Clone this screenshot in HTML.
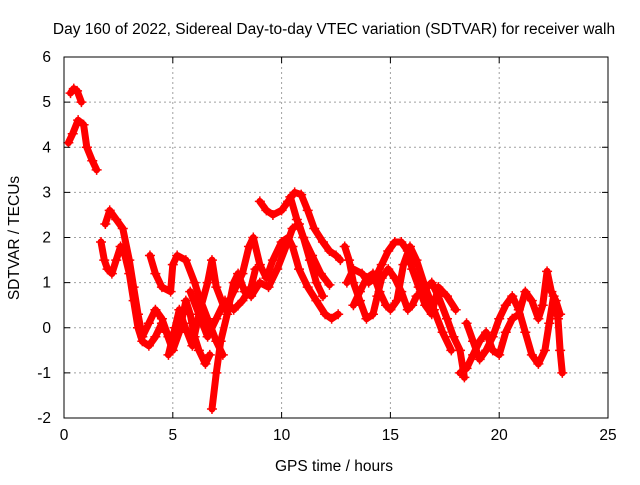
<!DOCTYPE html>
<html><head><meta charset="utf-8"><style>
body{margin:0;background:#fff}
svg{font-family:"Liberation Sans",Arial,sans-serif;font-size:15.5px}
</style></head><body>
<svg id="chart" width="640" height="480">
<g id="grid"></g>
<g id="series"></g>
<rect x="64" y="57" width="544" height="361" fill="none" stroke="#000"/>
<g id="ticks"></g>
<text x="334" y="34" text-anchor="middle">Day 160 of 2022, Sidereal Day-to-day VTEC variation (SDTVAR) for receiver walh</text>
<text x="334" y="471" text-anchor="middle">GPS time / hours</text>
<text x="0" y="0" transform="translate(19,238) rotate(-90)" text-anchor="middle">SDTVAR / TECUs</text>
</svg>
<script>
const xTicks=[0,5,10,15,20,25];
const yTicks=[-2,-1,0,1,2,3,4,5,6];
const track1=[[0.3,5.2],[0.45,5.3],[0.6,5.25],[0.8,5.0]];
const track2=[[0.2,4.1],[0.4,4.3],[0.65,4.6],[0.9,4.5],[1.05,4.0],[1.3,3.7],[1.5,3.5]];
const track3=[[1.7,1.9],[1.85,1.5],[2.0,1.3],[2.2,1.2],[2.4,1.5],[2.6,1.8],[2.8,1.6],[3.0,1.2],[3.2,0.6],[3.4,0.0],[3.6,-0.3],[3.9,-0.4],[4.2,-0.2],[4.5,0.1],[4.7,-0.1],[5.0,-0.5],[5.3,-0.1],[5.6,0.6],[5.8,0.3],[6.0,-0.2],[6.2,-0.5],[6.5,-0.8],[6.7,-0.6]];
const track4=[[1.9,2.3],[2.1,2.6],[2.4,2.4],[2.7,2.2],[3.0,1.5],[3.2,0.9],[3.4,0.3],[3.6,-0.2],[3.9,0.1],[4.2,0.4],[4.5,0.2],[4.8,-0.2]];
const track5=[[3.95,1.6],[4.2,1.2],[4.5,0.9],[4.9,0.8],[5.0,1.4],[5.2,1.6],[5.6,1.5],[6.0,1.0],[6.2,0.7],[6.6,0.2],[7.0,-0.3],[7.3,-0.6]];
const track6=[[4.8,-0.6],[5.1,0.0],[5.3,0.4],[5.5,0.1],[5.9,-0.4],[6.2,0.3],[6.6,1.0],[6.8,1.5],[7.0,0.9],[7.4,0.4],[7.8,0.8],[8.2,1.2],[8.5,1.8],[8.7,2.0],[9.0,1.4],[9.3,1.1],[9.6,1.5],[10.0,1.9],[10.3,2.0],[10.5,1.8],[10.8,1.3],[11.2,0.9],[11.6,0.6],[12.0,0.3],[12.3,0.2],[12.6,0.3]];
const track7=[[6.8,-1.8],[7.0,-1.0],[7.2,-0.3],[7.5,0.3],[7.8,1.0],[8.0,1.2],[8.3,0.8],[8.6,0.7],[9.0,1.0],[9.4,0.9],[9.8,1.3],[10.2,1.8],[10.5,2.2],[10.8,2.3],[11.0,2.0],[11.3,1.5],[11.6,1.0],[11.9,0.7]];
const track8=[[9.0,2.8],[9.3,2.6],[9.6,2.5],[10.0,2.6],[10.3,2.8],[10.6,3.0],[10.9,2.95],[11.2,2.6],[11.5,2.2],[11.9,1.9],[12.2,1.7],[12.5,1.6],[12.7,1.5]];
const track9=[[10.4,2.9],[10.7,2.4],[11.0,2.0],[11.4,1.6],[11.8,1.2],[12.2,0.95]];
const track10=[[12.9,1.8],[13.1,1.5],[13.3,1.0],[13.6,0.6],[13.9,0.2],[14.2,0.3],[14.4,0.7],[14.6,1.1],[14.9,1.3],[15.2,1.1],[15.5,0.8],[15.8,0.4],[16.0,0.5],[16.2,0.7],[16.5,0.8],[16.9,1.0],[17.2,0.7],[17.6,0.2],[17.9,-0.2],[18.2,-0.5],[18.4,-1.1]];
const track11=[[13.0,1.0],[13.3,1.3],[13.7,1.2],[14.0,1.0],[14.3,1.1],[14.6,1.4],[14.9,1.7],[15.2,1.9],[15.5,1.9],[15.8,1.7],[16.0,1.3],[16.3,0.9],[16.6,0.5],[16.9,0.3],[17.2,0.9],[17.6,0.7],[18.0,0.4]];
const track12=[[13.3,0.5],[13.6,0.8],[13.9,1.1],[14.2,1.2],[14.5,0.8],[14.8,0.5],[15.0,0.4],[15.3,0.6],[15.6,1.4],[15.9,1.8],[16.2,1.5],[16.6,0.9],[17.0,0.4],[17.4,-0.1],[17.8,-0.5]];
const track13=[[18.5,0.1],[18.8,-0.3],[19.1,-0.7],[19.4,-0.5],[19.7,-0.2],[20.0,0.2],[20.3,0.5],[20.6,0.7],[20.9,0.4],[21.2,-0.1],[21.5,-0.6],[21.8,-0.8],[22.1,-0.5],[22.3,0.1],[22.5,0.7],[22.7,0.2],[22.8,-0.5],[22.9,-1.0]];
const track14=[[18.2,-1.0],[18.5,-0.9],[18.8,-0.6],[19.1,-0.3],[19.4,-0.1],[19.7,-0.5],[20.0,-0.6],[20.3,-0.1],[20.6,0.2],[20.9,0.3],[21.2,0.8],[21.5,0.6],[21.8,0.2],[22.0,0.5],[22.2,1.25],[22.4,0.8],[22.6,0.6],[22.8,0.3]];
const track15=[[5.8,0.8],[6.2,0.3],[6.6,-0.2],[7.0,0.2],[7.4,0.6],[7.8,0.4],[8.2,0.6],[8.6,0.9],[8.8,1.3]];
const tracks=[track1,track2,track3,track4,track5,track6,track7,track8,track9,track10,track11,track12,track13,track14,track15];

const NS='http://www.w3.org/2000/svg';
const X0=64,X1=608,Y0=418,Y1=57;
function xs(h){return X0+(h-0)/(25-0)*(X1-X0);}
function ys(v){return Y0-(v-(-2))/(6-(-2))*(Y0-Y1);}
function mk(tag,attrs,parent){const e=document.createElementNS(NS,tag);for(const k in attrs)e.setAttribute(k,attrs[k]);parent.appendChild(e);return e;}
const grid=document.getElementById('grid'),ticks=document.getElementById('ticks'),series=document.getElementById('series');
xTicks.forEach(t=>{const x=xs(t);
 if(t>0&&t<25){const g=mk('line',{x1:x,x2:x,y1:Y1,y2:Y0,stroke:'#a0a0a0','stroke-dasharray':'2,3'},grid);
 
 }
 mk('line',{x1:x,x2:x,y1:Y0,y2:Y0-6,stroke:'#000'},ticks);
 mk('line',{x1:x,x2:x,y1:Y1,y2:Y1+6,stroke:'#000'},ticks);
 const tx=mk('text',{x:x,y:Y0+22,'text-anchor':'middle'},ticks);tx.textContent=t;
 
 });
yTicks.forEach(t=>{const y=ys(t);
 if(t>-2&&t<6){const g=mk('line',{x1:X0,x2:X1,y1:y,y2:y,stroke:'#a0a0a0','stroke-dasharray':'2,3'},grid);
 
 }
 mk('line',{x1:X0,x2:X0+6,y1:y,y2:y,stroke:'#000'},ticks);
 mk('line',{x1:X1,x2:X1-6,y1:y,y2:y,stroke:'#000'},ticks);
 const tx=mk('text',{x:X0-13,y:y+5,'text-anchor':'end'},ticks);tx.textContent=t;
 
 });
tracks.forEach((tr,i)=>{
 const pts=tr.map(p=>xs(p[0]).toFixed(1)+','+ys(p[1]).toFixed(1)).join(' ');
 const pl=mk('polyline',{points:pts,fill:'none',stroke:'#ff0000','stroke-width':7,'stroke-linejoin':'round','stroke-linecap':'round'},series);
 
 
 tr.forEach(p=>{const x=xs(p[0]),y=ys(p[1]);
  const m=mk('path',{d:`M${x-5},${y}h10M${x},${y-5}v10`,stroke:'#ff0000','stroke-width':1.5},series);
  
  });
});
</script>
</body></html>
